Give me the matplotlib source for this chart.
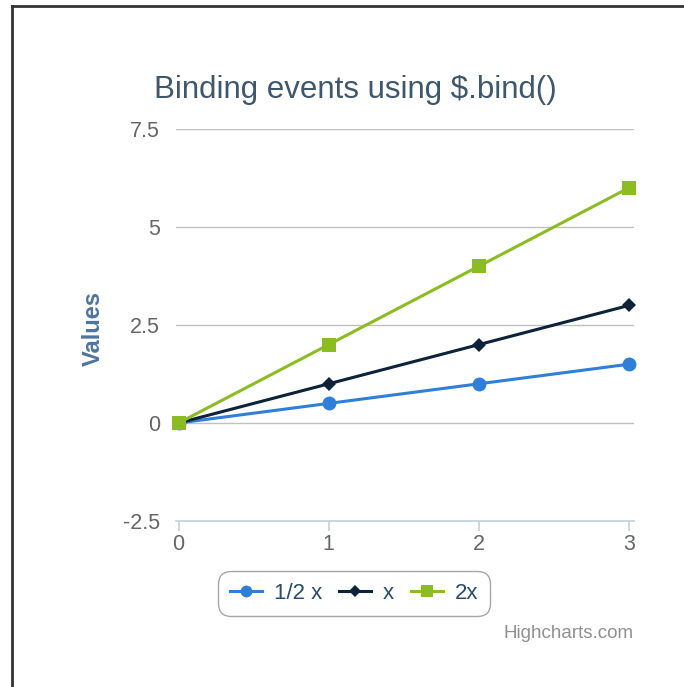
import matplotlib
matplotlib.use("Agg")
import matplotlib.pyplot as plt
from matplotlib.lines import Line2D

x_values = [0, 1, 2, 3]
half_x = [0, 0.5, 1, 1.5]
one_x = [0, 1, 2, 3]
two_x = [0, 2, 4, 6]
series_names = ["1/2 x", "x", "2x"]
y_ticks = [-2.5, 0, 2.5, 5, 7.5]
y_tick_labels = ["-2.5", "0", "2.5", "5", "7.5"]
x_ticks = [0, 1, 2, 3]

colors = ["#2f7ed8", "#0d233a", "#8bbc21"]
markers = ["o", "D", "s"]
msizes = [10, 7.5, 10]

plt.rcParams['font.family'] = ['Liberation Sans', 'DejaVu Sans']

W, H = 684, 687
fig = plt.figure(figsize=(W / 100, H / 100), dpi=100)
fig.patch.set_facecolor("white")

left, right, top, bottom = 176, 634, 129, 521
ax = fig.add_axes([left / W, 1 - bottom / H, (right - left) / W, (bottom - top) / H])
ax.set_xlim(-0.017, 3.033)
ax.set_ylim(-2.5, 7.5)

for yt in y_ticks[1:]:
    ax.axhline(yt, color="#C0C0C0", lw=1, zorder=1)
ax.axhline(-2.5, color="#C0D0E0", lw=1.2, zorder=1, clip_on=False)

for s, (vals, c, m, ms) in enumerate(zip([half_x, one_x, two_x], colors, markers, msizes)):
    ax.plot(x_values, vals, color=c, lw=2.2, marker=m, markersize=ms,
            markeredgewidth=0, zorder=3 + s, clip_on=False)

for sp in ax.spines.values():
    sp.set_visible(False)
ax.set_yticks(y_ticks)
ax.set_yticklabels(y_tick_labels)
ax.set_xticks(x_ticks)
ax.tick_params(axis="y", length=0, pad=11.5, labelsize=15.5, labelcolor="#666666")
ax.tick_params(axis="x", length=7.5, width=1.2, color="#C0D0E0", pad=2, labelsize=15.5,
               labelcolor="#666666")
ax.set_ylabel("Values", color="#4d759e", fontsize=17, fontweight="bold")
ax.yaxis.set_label_coords((93 - left) / (right - left), 0.49)
ax.yaxis.label.set_va("center")

fig.text(355.5 / W, 1 - 98 / H, "Binding events using $.bind()", ha="center", va="baseline",
         fontsize=22.5, color="#3E576F")

# legend
handles = [Line2D([0], [0], color=c, lw=2.2, marker=m, markersize=ms * 0.85, markeredgewidth=0)
           for c, m, ms in zip(colors, markers, msizes)]
leg = fig.legend(handles, series_names, loc="center", bbox_to_anchor=(354 / W, 1 - 593.5 / H),
                 ncol=3, frameon=True, fontsize=16, handlelength=1.44, handletextpad=0.54,
                 columnspacing=0.75, borderpad=0.55, fancybox=True, labelcolor="#274b6d")
leg.get_frame().set_edgecolor("#909090")
leg.get_frame().set_linewidth(1.0)
leg.get_frame().set_boxstyle("round,pad=0,rounding_size=0.6")

fig.text(634 / W, 1 - 634 / H, "Highcharts.com", ha="right", va="center", fontsize=13.5,
         color="#909090")

# container border
fig.add_artist(Line2D([12 / W, 1], [1 - 6 / H, 1 - 6 / H], transform=fig.transFigure,
                      color="#333333", lw=2))
fig.add_artist(Line2D([12 / W, 12 / W], [0, 1 - 6 / H], transform=fig.transFigure,
                      color="#333333", lw=2))

fig.savefig("out.png", dpi=100, facecolor="white")
